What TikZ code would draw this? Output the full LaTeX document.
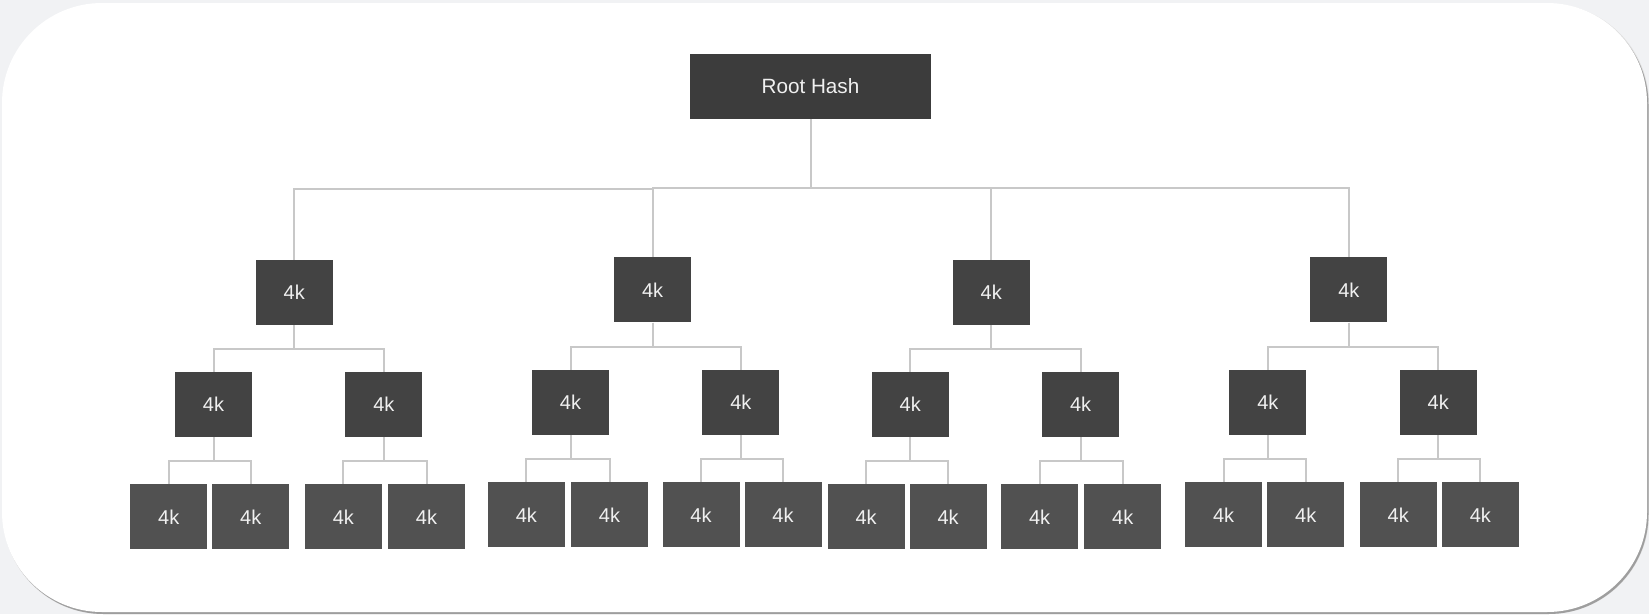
\documentclass[tikz,border=0pt]{standalone}
\usepackage{fontspec}
\setmainfont{Liberation Sans}
\definecolor{pagegray}{HTML}{F1F2F4}
\definecolor{shadowgray}{HTML}{9E9E9E}
\definecolor{rootfill}{HTML}{3C3C3C}
\definecolor{nodefill}{HTML}{434343}
\definecolor{leaffill}{HTML}{515151}
\definecolor{linkgray}{HTML}{C8C8C8}
\begin{document}
\begin{tikzpicture}[x = 0.75pt, y = -0.75pt,
		hashbox/.style = {fill = nodefill, text = white!94!black, minimum width = 57.75pt, minimum height = 48.75pt, inner sep = 0pt, font = \fontsize{15}{17}\selectfont},
		leafbox/.style = {hashbox, fill = leaffill},
		link/.style = {linkgray, line width = 1.5pt}]
		\useasboundingbox (0,0) rectangle (1649,614);
		\fill [pagegray] (0,0) rectangle (1649,614);
		\fill [gray!25, rounded corners = 75pt] (3,4) rectangle (1649,614);
		\fill [shadowgray, rounded corners = 75pt] (3.5,5) rectangle (1648.5,614);
		\fill [white, rounded corners = 75pt] (2,3) rectangle (1647,612);
		% root and first level
		\node [hashbox, fill = rootfill, minimum width = 180.75pt, font = \fontsize{15.5}{18}\selectfont] (root) at (810.5,86.5) {Root Hash};
		\node [hashbox] (a) at (294.3,292.3) {4k};
		\node [hashbox] (b) at (652.6,289.8) {4k};
		\node [hashbox] (c) at (991.2,292.3) {4k};
		\node [hashbox] (d) at (1348.8,289.8) {4k};
		% second level
		\node [hashbox] (a1) at (213.5,404.4) {4k};
		\node [hashbox] (a2) at (383.9,404.4) {4k};
		\node [hashbox] (b1) at (570.5,402.3) {4k};
		\node [hashbox] (b2) at (740.9,402.3) {4k};
		\node [hashbox] (c1) at (910.2,404.4) {4k};
		\node [hashbox] (c2) at (1080.6,404.4) {4k};
		\node [hashbox] (d1) at (1267.8,402.3) {4k};
		\node [hashbox] (d2) at (1438.2,402.3) {4k};
		% leaves
		\node [leafbox] (a11) at (168.8,516.9) {4k};
		\node [leafbox] (a12) at (250.8,516.9) {4k};
		\node [leafbox] (a21) at (343.4,516.9) {4k};
		\node [leafbox] (a22) at (426.5,516.9) {4k};
		\node [leafbox] (b11) at (526.4,514.8) {4k};
		\node [leafbox] (b12) at (609.5,514.8) {4k};
		\node [leafbox] (b21) at (701.0,514.8) {4k};
		\node [leafbox] (b22) at (783.0,514.8) {4k};
		\node [leafbox] (c11) at (866.1,516.9) {4k};
		\node [leafbox] (c12) at (948.1,516.9) {4k};
		\node [leafbox] (c21) at (1039.6,516.9) {4k};
		\node [leafbox] (c22) at (1122.7,516.9) {4k};
		\node [leafbox] (d11) at (1223.6,514.8) {4k};
		\node [leafbox] (d12) at (1305.7,514.8) {4k};
		\node [leafbox] (d21) at (1398.2,514.8) {4k};
		\node [leafbox] (d22) at (1480.3,514.8) {4k};
		% connectors
		\draw [link] (root.south) -- ++(0,69) -| (b.north);
		\draw [link] (b.north) ++(0,-68.5) -| (a.north);
		\draw [link] (root.south) -- ++(0,69) -| (c.north);
		\draw [link] (root.south) -- ++(0,69) -| (d.north);
		\draw [link] (a.south) -- ++(0,24) -| (a1.north);
		\draw [link] (a.south) -- ++(0,24) -| (a2.north);
		\draw [link] (b.south) -- ++(0,24) -| (b1.north);
		\draw [link] (b.south) -- ++(0,24) -| (b2.north);
		\draw [link] (c.south) -- ++(0,24) -| (c1.north);
		\draw [link] (c.south) -- ++(0,24) -| (c2.north);
		\draw [link] (d.south) -- ++(0,24) -| (d1.north);
		\draw [link] (d.south) -- ++(0,24) -| (d2.north);
		\draw [link] (a1.south) -- ++(0,24) -| (a11.north);
		\draw [link] (a1.south) -- ++(0,24) -| (a12.north);
		\draw [link] (a2.south) -- ++(0,24) -| (a21.north);
		\draw [link] (a2.south) -- ++(0,24) -| (a22.north);
		\draw [link] (b1.south) -- ++(0,24) -| (b11.north);
		\draw [link] (b1.south) -- ++(0,24) -| (b12.north);
		\draw [link] (b2.south) -- ++(0,24) -| (b21.north);
		\draw [link] (b2.south) -- ++(0,24) -| (b22.north);
		\draw [link] (c1.south) -- ++(0,24) -| (c11.north);
		\draw [link] (c1.south) -- ++(0,24) -| (c12.north);
		\draw [link] (c2.south) -- ++(0,24) -| (c21.north);
		\draw [link] (c2.south) -- ++(0,24) -| (c22.north);
		\draw [link] (d1.south) -- ++(0,24) -| (d11.north);
		\draw [link] (d1.south) -- ++(0,24) -| (d12.north);
		\draw [link] (d2.south) -- ++(0,24) -| (d21.north);
		\draw [link] (d2.south) -- ++(0,24) -| (d22.north);
\end{tikzpicture}
\end{document}
